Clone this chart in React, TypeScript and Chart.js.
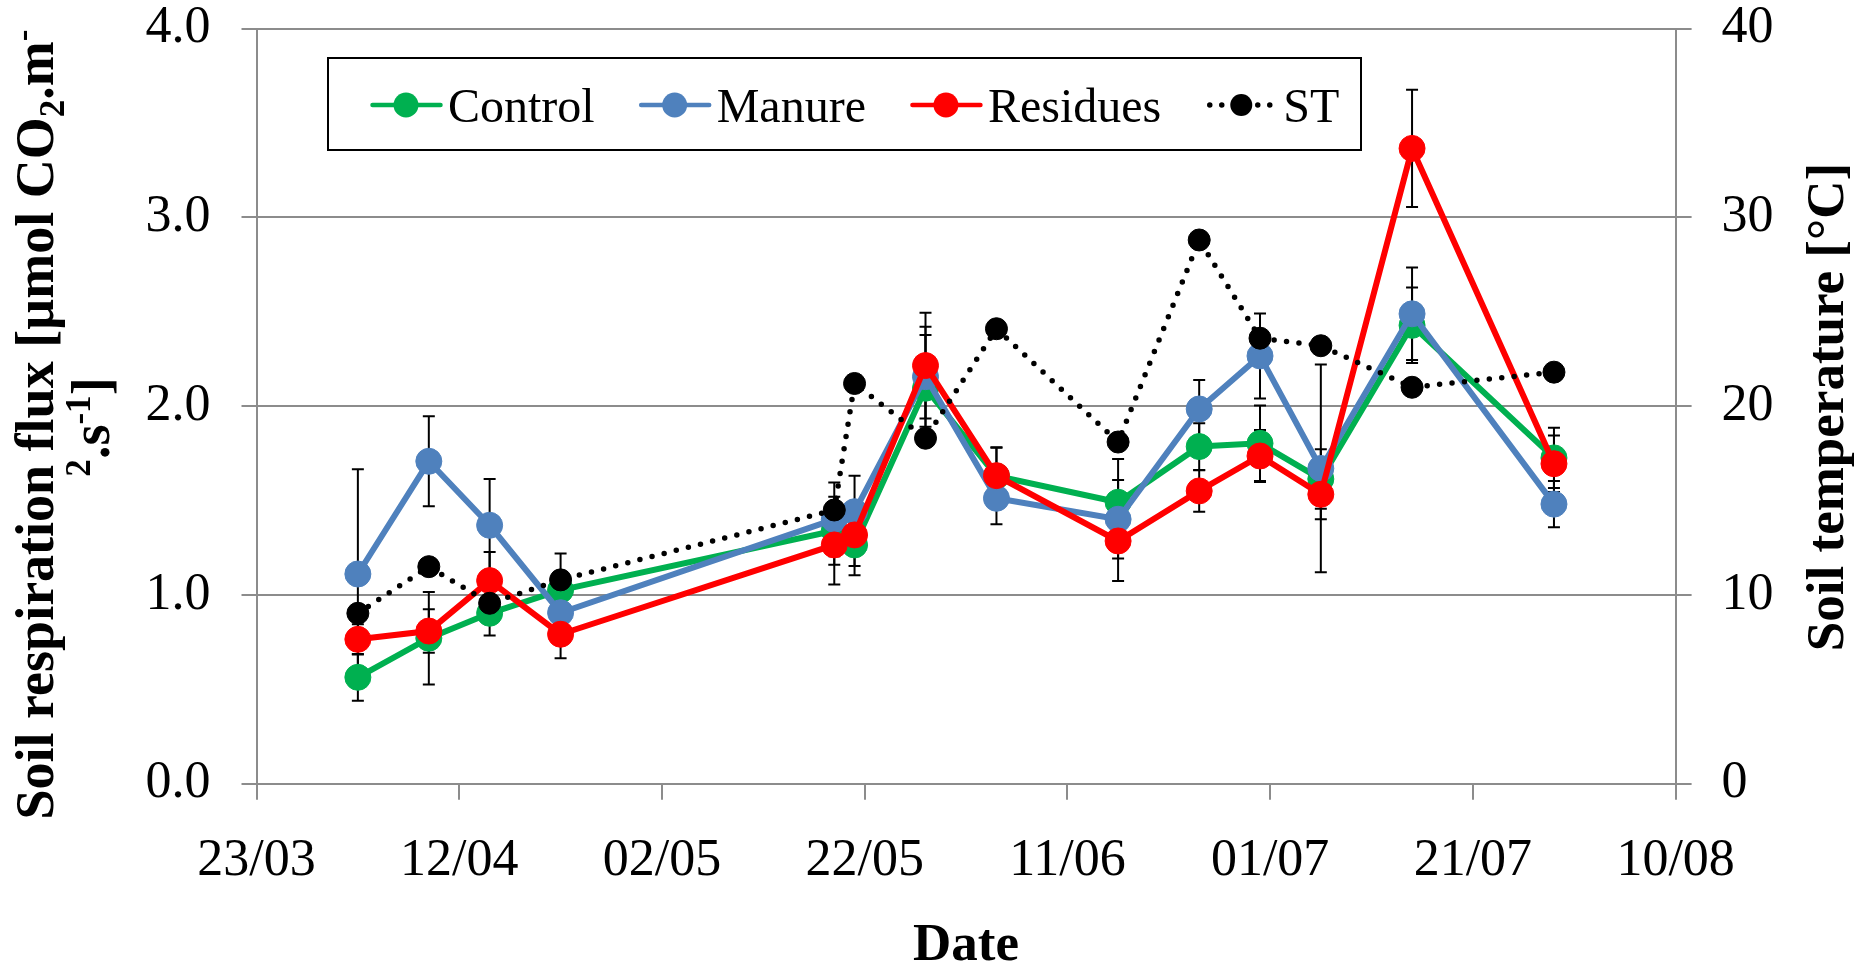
import React, { useEffect, useRef } from 'react';
import { Chart, registerables } from 'chart.js';

Chart.register(...registerables);

// ---------- data ----------
const xTickLabels = ['23/03', '12/04', '02/05', '22/05', '11/06', '01/07', '21/07', '10/08'];
const axisStartDate = '23/03';

const sampleDates = ['02/04', '09/04', '15/04', '22/04', '19/05', '21/05', '28/05', '04/06', '16/06', '24/06', '30/06', '06/07', '15/07', '29/07'];

const controlValues = [0.564, 0.771, 0.903, 1.026, 1.34, 1.265, 2.095, 1.63, 1.491, 1.786, 1.803, 1.614, 2.428, 1.726];
const controlErrors = [0.124, 0.245, 0.118, 0.193, 0.18, 0.16, 0.282, 0.15, 0.229, 0.124, 0.2, 0.158, 0.2, 0.16];

const manureValues = [1.111, 1.708, 1.369, 0.906, 1.40, 1.441, 2.156, 1.512, 1.401, 1.985, 2.266, 1.67, 2.489, 1.481];
const manureErrors = [0.555, 0.238, 0.245, 0.12, 0.195, 0.19, 0.265, 0.138, 0.208, 0.154, 0.225, 0.55, 0.245, 0.122];

const residuesValues = [0.765, 0.809, 1.076, 0.792, 1.265, 1.318, 2.215, 1.632, 1.286, 1.551, 1.736, 1.533, 3.365, 1.695];
const residuesErrors = [0.08, 0.115, 0.152, 0.127, 0.21, 0.165, 0.28, 0.15, 0.212, 0.11, 0.138, 0.132, 0.31, 0.15];

const stValues = [9.03, 11.5, 9.56, 10.8, 14.5, 21.2, 18.3, 24.1, 18.1, 28.8, 23.6, 23.2, 21.0, 21.8];

// ---------- helpers ----------
function dayOffset(s: string): number {
  const [d, m] = s.split('/').map(Number);
  const [d0, m0] = axisStartDate.split('/').map(Number);
  return Math.round((Date.UTC(2021, m - 1, d) - Date.UTC(2021, m0 - 1, d0)) / 86400000);
}

const FONT = "'Liberation Serif', 'Times New Roman', Times, serif";
const GRID = '#8c8c8c';
const GREEN = '#00B050';
const BLUE = '#4F81BD';
const RED = '#FF0000';

const MARK_R = 13;
const ST_R = 11;

function pts(values: number[]) {
  return values.map((v, i) => ({ x: dayOffset(sampleDates[i]), y: v }));
}

type Seg = { text: string; t?: 'sub' | 'sup' };

function drawRich(ctx: CanvasRenderingContext2D, segs: Seg[], size: number, weight: string) {
  let total = 0;
  const parts = segs.map((s) => {
    const fs = s.t ? size * 0.65 : size;
    ctx.font = `${weight} ${fs}px ${FONT}`;
    const w = ctx.measureText(s.text).width;
    total += w;
    return { ...s, fs, w };
  });
  let x = -total / 2;
  ctx.textAlign = 'left';
  ctx.textBaseline = 'alphabetic';
  parts.forEach((p) => {
    ctx.font = `${weight} ${p.fs}px ${FONT}`;
    const dy = p.t === 'sub' ? size * 0.2 : p.t === 'sup' ? -size * 0.36 : 0;
    ctx.fillText(p.text, x, dy);
    x += p.w;
  });
}

const errorMap: Record<number, number[]> = { 0: controlErrors, 1: manureErrors, 2: residuesErrors };

const errorBarPlugin = {
  id: 'errorBars',
  beforeDatasetsDraw(chart: any) {
    const ctx = chart.ctx as CanvasRenderingContext2D;
    const xs = chart.scales.x;
    const ys = chart.scales.y;
    ctx.save();
    // outer tick marks of both value axes
    ctx.strokeStyle = GRID;
    ctx.lineWidth = 2;
    const area = chart.chartArea;
    chart.scales.y.ticks.forEach((t: any) => {
      const py = Math.round(chart.scales.y.getPixelForValue(t.value)) + 0;
      ctx.beginPath();
      ctx.moveTo(area.left - 15, py);
      ctx.lineTo(area.left, py);
      ctx.stroke();
    });
    chart.scales.y1.ticks.forEach((t: any) => {
      const py = Math.round(chart.scales.y1.getPixelForValue(t.value)) + 0;
      ctx.beginPath();
      ctx.moveTo(area.right, py);
      ctx.lineTo(area.right + 16, py);
      ctx.stroke();
    });
    // error bars
    ctx.strokeStyle = '#000';
    ctx.lineWidth = 2;
    Object.keys(errorMap).forEach((k) => {
      const idx = Number(k);
      const ds = chart.data.datasets[idx];
      const errs = errorMap[idx];
      ds.data.forEach((p: any, j: number) => {
        const e = errs[j];
        const px = xs.getPixelForValue(p.x);
        const top = ys.getPixelForValue(p.y + e);
        const bot = ys.getPixelForValue(p.y - e);
        ctx.beginPath();
        ctx.moveTo(px, top);
        ctx.lineTo(px, bot);
        ctx.moveTo(px - 6, top);
        ctx.lineTo(px + 6, top);
        ctx.moveTo(px - 6, bot);
        ctx.lineTo(px + 6, bot);
        ctx.stroke();
      });
    });
    ctx.restore();
  },
};

const legendItems = [
  { label: 'Control', color: GREEN, dotted: false, r: 12.5 },
  { label: 'Manure', color: BLUE, dotted: false, r: 12.5 },
  { label: 'Residues', color: RED, dotted: false, r: 12.5 },
  { label: 'ST', color: '#000', dotted: true, r: 11 },
];

const legendPlugin = {
  id: 'boxLegend',
  afterDraw(chart: any) {
    const ctx = chart.ctx as CanvasRenderingContext2D;
    ctx.save();
    const bx = 328, by = 58, bw = 1033, bh = 92;
    ctx.fillStyle = '#fff';
    ctx.fillRect(bx, by, bw, bh);
    ctx.strokeStyle = '#000';
    ctx.lineWidth = 2;
    ctx.strokeRect(bx, by, bw, bh);
    let x = 370.5;
    const cy = 105;
    ctx.font = `48px ${FONT}`;
    ctx.textBaseline = 'alphabetic';
    ctx.textAlign = 'left';
    legendItems.forEach((it) => {
      ctx.save();
      ctx.strokeStyle = it.color;
      ctx.lineCap = 'round';
      if (it.dotted) {
        ctx.lineWidth = 5.5;
        ctx.setLineDash([0, 12]);
        ctx.beginPath();
        ctx.moveTo(x + 4, cy);
        ctx.lineTo(x + 71, cy);
        ctx.stroke();
      } else {
        ctx.lineWidth = 4.5;
        ctx.beginPath();
        ctx.moveTo(x + 2, cy);
        ctx.lineTo(x + 70, cy);
        ctx.stroke();
      }
      ctx.setLineDash([]);
      ctx.fillStyle = it.color;
      ctx.beginPath();
      ctx.arc(x + 35.5, cy, it.r, 0, Math.PI * 2);
      ctx.fill();
      ctx.restore();
      ctx.fillStyle = '#000';
      ctx.font = `48px ${FONT}`;
      const tx = x + 77.5;
      ctx.fillText(it.label, tx, 121.5);
      x = tx + ctx.measureText(it.label).width + 44.5;
    });
    ctx.restore();
  },
};

const titlePlugin = {
  id: 'axisTitles',
  afterDraw(chart: any) {
    const ctx = chart.ctx as CanvasRenderingContext2D;
    ctx.save();
    ctx.fillStyle = '#000';
    ctx.save();
    ctx.translate(53, 424.5);
    ctx.rotate(-Math.PI / 2);
    drawRich(ctx, [
      { text: 'Soil respiration flux [µmol CO' },
      { text: '2', t: 'sub' },
      { text: '.m' },
      { text: '-', t: 'sup' },
    ], 54, 'bold');
    ctx.restore();
    ctx.save();
    ctx.translate(109, 427);
    ctx.rotate(-Math.PI / 2);
    drawRich(ctx, [
      { text: '2', t: 'sup' },
      { text: '.s' },
      { text: '-1', t: 'sup' },
      { text: ']' },
    ], 54, 'bold');
    ctx.restore();
    ctx.save();
    ctx.translate(1843, 407);
    ctx.rotate(-Math.PI / 2);
    drawRich(ctx, [{ text: 'Soil temperature [°C]' }], 53, 'bold');
    ctx.restore();
    ctx.save();
    ctx.translate(966, 960);
    drawRich(ctx, [{ text: 'Date' }], 53, 'bold');
    ctx.restore();
    ctx.restore();
  },
};

export default function App() {
  const ref = useRef<HTMLCanvasElement | null>(null);

  useEffect(() => {
    document.body.style.margin = '0';
    const canvas = ref.current;
    if (!canvas) return;
    const tickFont = { family: FONT, size: 52, lineHeight: 1.0 };
    const series = (label: string, values: number[], color: string, order: number) => ({
      label,
      data: pts(values),
      borderColor: color,
      backgroundColor: color,
      borderWidth: 6,
      pointRadius: MARK_R,
      pointBorderWidth: 1,
      pointBorderColor: color,
      pointBackgroundColor: color,
      yAxisID: 'y',
      order,
      tension: 0,
    });
    const chart = new Chart(canvas, {
      type: 'line',
      data: {
        datasets: [
          series('Control', controlValues, GREEN, 4),
          series('Manure', manureValues, BLUE, 3),
          series('Residues', residuesValues, RED, 2),
          {
            label: 'ST',
            data: pts(stValues),
            borderColor: '#000',
            backgroundColor: '#000',
            borderWidth: 5.5,
            borderDash: [0, 12.5],
            borderCapStyle: 'round',
            pointRadius: ST_R,
            pointBorderWidth: 1,
            pointBorderColor: '#000',
            pointBackgroundColor: '#000',
            yAxisID: 'y1',
            order: 1,
            tension: 0,
          },
        ],
      },
      options: {
        responsive: false,
        animation: false,
        devicePixelRatio: 1,
        layout: { padding: { top: 28.5, left: 0, right: 0, bottom: 0 } },
        plugins: {
          legend: { display: false },
          tooltip: { enabled: false },
          title: { display: false },
        },
        scales: {
          x: {
            type: 'linear',
            min: 0,
            max: 140,
            afterFit: (s: any) => { s.height = 180.2; },
            ticks: {
              stepSize: 20,
              font: { family: FONT, size: 52, lineHeight: 1.2 },
              color: '#000',
              padding: 30,
              maxRotation: 0,
              autoSkip: false,
              callback: (v: any) => xTickLabels[Math.round(Number(v) / 20)] ?? '',
            },
            grid: { drawOnChartArea: false, drawTicks: true, tickLength: 16, color: GRID, lineWidth: 2 },
            border: { display: true, color: GRID, width: 2 },
          },
          y: {
            type: 'linear',
            position: 'left',
            min: 0,
            max: 4,
            afterFit: (s: any) => { s.width = 256.5; },
            ticks: {
              stepSize: 1,
              font: tickFont,
              color: '#000',
              padding: 0,
              callback: (v: any) => Number(v).toFixed(1),
            },
            grid: { drawOnChartArea: true, drawTicks: true, tickLength: 46, color: GRID, tickColor: 'rgba(0,0,0,0)', lineWidth: 2 },
            border: { display: true, color: GRID, width: 2 },
          },
          y1: {
            type: 'linear',
            position: 'right',
            min: 0,
            max: 40,
            afterFit: (s: any) => { s.width = 186.4; },
            ticks: {
              stepSize: 10,
              font: tickFont,
              color: '#000',
              padding: 0,
            },
            grid: { drawOnChartArea: false, drawTicks: true, tickLength: 46, color: GRID, tickColor: 'rgba(0,0,0,0)', lineWidth: 2 },
            border: { display: true, color: GRID, width: 2 },
          },
        },
      },
      plugins: [errorBarPlugin, legendPlugin, titlePlugin],
    } as any);
    return () => chart.destroy();
  }, []);

  return (
    <div style={{ width: 1862, height: 964, position: 'relative', background: '#fff' }}>
      <canvas ref={ref} width={1862} height={964} style={{ display: 'block' }} />
    </div>
  );
}
